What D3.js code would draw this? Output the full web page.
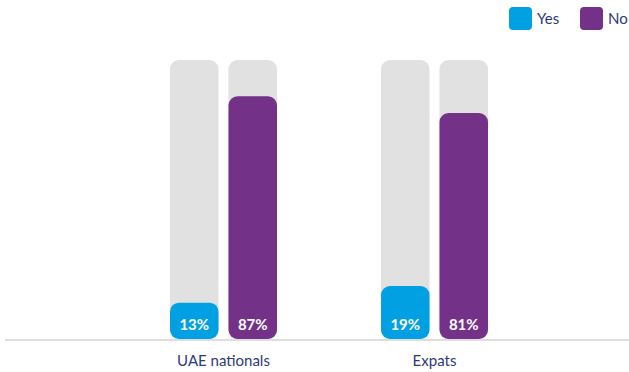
<!DOCTYPE html>
<html>
<head>
<meta charset="utf-8">
<script src="https://cdn.jsdelivr.net/npm/d3@7"></script>
<style>
  body { margin: 0; background: #fff; }
  svg { display: block; font-family: Lato, "Open Sans", sans-serif; }
</style>
</head>
<body>
<div id="chart"></div>
<script>
// data
const groups = ['UAE nationals', 'Expats'];
const series = ['Yes', 'No'];
const yesValues = [13, 19];
const noValues = [87, 81];
const colors = ['#00a0e3', '#733288'];

const width = 629;
const height = 372;
const baseline = 339;
const plotTop = 60;

const $svg = d3.select('#chart').append('svg')
  .attr('width', width)
  .attr('height', height);

// scales
const x = d3.scalePoint().domain(groups).range([223.5, 434.5]);
const xInner = d3.scaleBand().domain(series).range([-53.5, 53.5])
  .paddingInner(0.17).paddingOuter(0);
const y = d3.scaleLinear().domain([0, 100]).range([baseline, plotTop]);
const color = d3.scaleOrdinal().domain(series).range(colors);

const rows = [];
groups.forEach((g, i) => {
  rows.push({ group: g, key: 'Yes', value: yesValues[i] });
  rows.push({ group: g, key: 'No', value: noValues[i] });
});

// baseline
$svg.append('line')
  .attr('x1', 5).attr('x2', width)
  .attr('y1', baseline + 1).attr('y2', baseline + 1)
  .attr('stroke', '#dedede')
  .attr('stroke-width', 2);

const bx = d => x(d.group) + xInner(d.key);

// background tracks
$svg.append('g').selectAll('rect')
  .data(rows)
  .join('rect')
  .attr('x', bx)
  .attr('y', y(100))
  .attr('width', xInner.bandwidth())
  .attr('height', y(0) - y(100))
  .attr('rx', 9)
  .attr('fill', '#e1e1e1');

// value bars
$svg.append('g').selectAll('rect')
  .data(rows)
  .join('rect')
  .attr('x', bx)
  .attr('y', d => y(d.value))
  .attr('width', xInner.bandwidth())
  .attr('height', d => y(0) - y(d.value))
  .attr('rx', 9)
  .attr('fill', d => color(d.key));

// value labels
$svg.append('g').selectAll('text')
  .data(rows)
  .join('text')
  .attr('x', d => bx(d) + xInner.bandwidth() / 2)
  .attr('y', baseline - 9)
  .attr('text-anchor', 'middle')
  .attr('fill', '#fff')
  .attr('font-size', 15)
  .attr('font-weight', 'bold')
  .text(d => `${d.value}%`);

// category labels
$svg.append('g').selectAll('text')
  .data(groups)
  .join('text')
  .attr('x', d => x(d))
  .attr('y', 366)
  .attr('text-anchor', 'middle')
  .attr('fill', '#2d3a78')
  .attr('font-size', 15)
  .text(d => d);

// legend
const legendX = [509, 580];
const $legend = $svg.append('g').selectAll('g')
  .data(series)
  .join('g')
  .attr('transform', (d, i) => `translate(${legendX[i]}, 7)`);
$legend.append('rect')
  .attr('width', 23).attr('height', 23)
  .attr('rx', 4)
  .attr('fill', d => color(d));
$legend.append('text')
  .attr('x', 28).attr('y', 17)
  .attr('fill', '#2d3a78')
  .attr('font-size', 15)
  .text(d => d);
</script>
</body>
</html>
